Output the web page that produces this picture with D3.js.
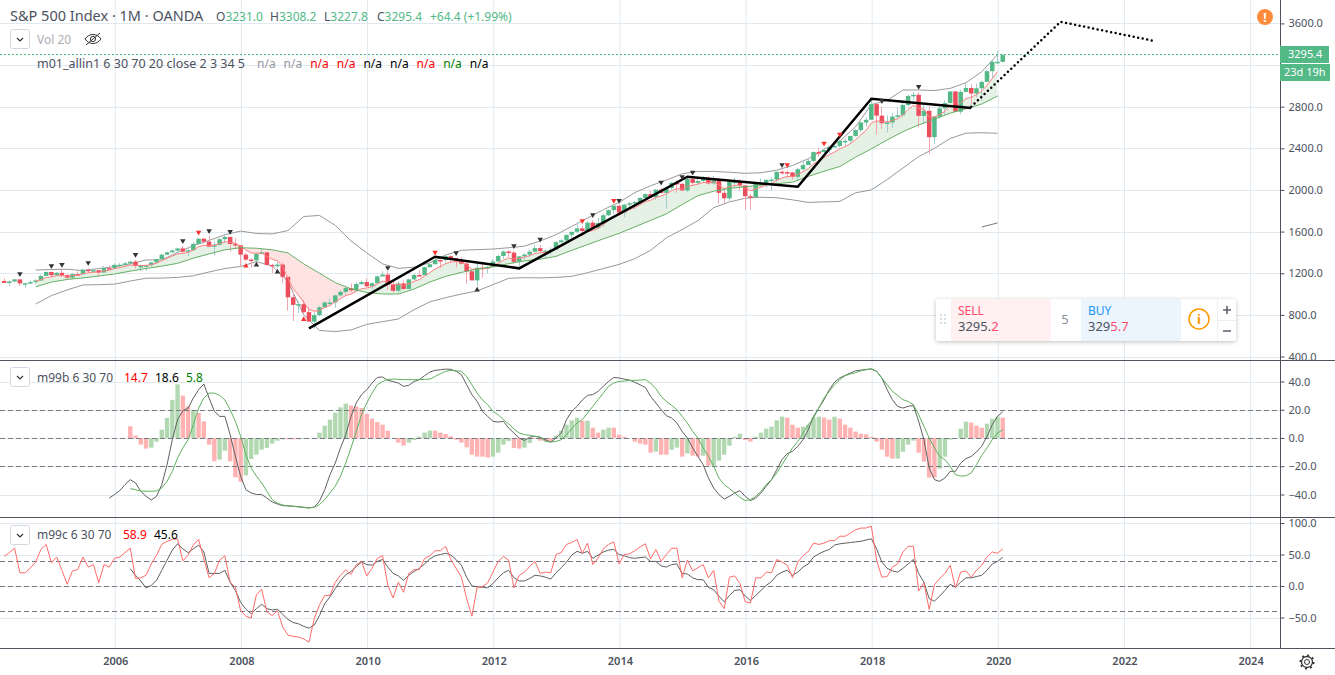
<!DOCTYPE html>
<html>
<head>
<meta charset="utf-8">
<script src="https://cdn.jsdelivr.net/npm/d3@7"></script>
<style>
  body { margin: 0; background: #fff; }
  text { font-family: "Noto Sans", sans-serif; }
</style>
</head>
<body>
<div id="chart"></div>
<script>
// months counted from Jan 2006 = 0, first candle is Apr 2004, last is Feb 2020
var firstMonth = -21
var yearTicks = [2006, 2008, 2010, 2012, 2014, 2016, 2018, 2020, 2022, 2024]
var priceTicks = [3600, 3200, 2800, 2400, 2000, 1600, 1200, 800, 400]
var priceLabels = [3600, 2800, 2400, 2000, 1600, 1200, 800, 400] // 3200 sits under the price tags
var oscTicks = [40, 20, 0, -20, -40]
var oscDashes = [20, 0, -20]
var pctTicks = [100, 50, 0, -50]
var pctDashes = [40, 0, -40]

var opens = [1126,1107,1121,1141,1102,1104,1115,1130,1174,
  1212,1181,1204,1181,1157,1192,1191,1234,1220,1229,1207,1249,
  1248,1280,1281,1295,1311,1270,1270,1277,1304,1336,1378,1401,
  1418,1438,1407,1421,1482,1531,1503,1455,1474,1527,1549,1481,
  1468,1379,1331,1323,1386,1400,1280,1267,1283,1165,969,896,
  903,826,735,798,873,919,919,987,1021,1057,1036,1096,
  1115,1074,1104,1169,1187,1089,1031,1102,1049,1141,1183,1181,
  1258,1286,1327,1326,1364,1345,1321,1292,1219,1131,1253,1247,
  1258,1312,1366,1408,1398,1310,1362,1379,1407,1441,1412,1416,
  1426,1498,1515,1569,1598,1631,1606,1686,1633,1682,1757,1806,
  1848,1783,1859,1872,1884,1924,1960,1931,2003,1972,2018,2068,
  2059,1995,2104,2068,2086,2107,2063,2104,1972,1920,2079,2080,
  2044,1940,1932,2060,2065,2097,2099,2174,2171,2168,2126,2199,
  2239,2279,2364,2363,2384,2412,2423,2470,2472,2519,2575,2648,
  2674,2824,2714,2641,2648,2705,2718,2816,2902,2914,2712,2760,
  2507,2704,2784,2834,2946,2752,2942,2980,2926,2977,3038,3141,
  3231,3231]
var highs = [1150,1128,1146,1140,1109,1131,1142,1188,1217,
  1217,1212,1229,1192,1199,1219,1246,1245,1244,1233,1270,1275,
  1295,1297,1310,1318,1327,1284,1281,1307,1340,1389,1407,1431,
  1441,1461,1439,1498,1535,1541,1556,1504,1539,1576,1546,1537,
  1471,1396,1344,1397,1441,1405,1292,1313,1306,1167,1007,936,
  943,875,832,888,930,956,993,1039,1080,1101,1113,1130,
  1150,1112,1180,1220,1218,1131,1120,1129,1148,1196,1227,1263,
  1302,1344,1332,1366,1371,1346,1357,1307,1230,1293,1292,1269,
  1333,1378,1420,1422,1415,1364,1391,1427,1474,1470,1434,1448,
  1510,1530,1570,1597,1687,1654,1698,1709,1730,1775,1813,1849,
  1850,1867,1883,1897,1925,1968,1991,2005,2019,2018,2075,2093,
  2064,2119,2117,2125,2134,2129,2132,2112,2020,2094,2116,2104,
  2038,1962,2072,2111,2103,2120,2177,2193,2187,2169,2214,2278,
  2301,2371,2401,2398,2416,2454,2484,2491,2519,2582,2657,2694,
  2873,2835,2801,2717,2742,2791,2848,2916,2941,2940,2815,2800,
  2708,2813,2860,2949,2954,2964,3028,3014,3022,3050,3154,3248,
  3337,3308.2]
var lows = [1105,1076,1113,1078,1060,1099,1090,1128,1173,
  1163,1180,1163,1137,1146,1188,1183,1201,1205,1168,1202,1246,
  1245,1253,1268,1280,1245,1219,1224,1262,1290,1327,1377,1394,
  1403,1389,1363,1416,1476,1484,1453,1370,1460,1489,1406,1435,
  1270,1317,1256,1320,1385,1273,1200,1247,1107,840,741,815,
  805,735,667,784,868,888,869,979,992,1020,1029,1086,
  1071,1044,1101,1170,1040,1011,1011,1040,1049,1131,1173,1186,
  1257,1287,1249,1302,1311,1258,1282,1101,1136,1075,1158,1202,
  1259,1312,1340,1357,1292,1267,1325,1354,1397,1403,1343,1377,
  1426,1485,1501,1536,1582,1560,1604,1627,1633,1646,1746,1767,
  1770,1737,1834,1814,1859,1915,1930,1904,1964,1821,2001,1972,
  1988,1980,2039,2048,2067,2056,2044,1867,1871,1893,2019,1993,
  1812,1810,1937,2033,2025,1992,2074,2147,2119,2097,2084,2187,
  2245,2267,2322,2329,2352,2405,2407,2418,2446,2511,2557,2605,
  2682,2532,2586,2553,2594,2691,2699,2802,2864,2603,2631,2346,
  2443,2681,2722,2848,2750,2728,2952,2822,2891,2855,3050,3070,
  3214,3227.8]
var closes = [1107,1121,1141,1102,1104,1115,1130,1174,1212,
  1181,1204,1181,1157,1192,1191,1234,1220,1229,1207,1249,1248,
  1280,1281,1295,1311,1270,1270,1277,1304,1336,1378,1401,1418,
  1438,1407,1421,1482,1531,1503,1455,1474,1527,1549,1481,1468,
  1379,1331,1323,1386,1400,1280,1267,1283,1165,969,896,903,
  826,735,798,873,919,919,987,1021,1057,1036,1096,1115,
  1074,1104,1169,1187,1089,1031,1102,1049,1141,1183,1181,1258,
  1286,1327,1326,1364,1345,1321,1292,1219,1131,1253,1247,1258,
  1312,1366,1408,1398,1310,1362,1379,1407,1441,1412,1416,1426,
  1498,1515,1569,1598,1631,1606,1686,1633,1682,1757,1806,1848,
  1783,1859,1872,1884,1924,1960,1931,2003,1972,2018,2068,2059,
  1995,2104,2068,2086,2107,2063,2104,1972,1920,2079,2080,2044,
  1940,1932,2060,2065,2097,2099,2174,2171,2168,2126,2199,2239,
  2279,2364,2363,2384,2412,2423,2470,2472,2519,2575,2648,2674,
  2824,2714,2641,2648,2705,2718,2816,2902,2914,2712,2760,2507,
  2704,2784,2834,2946,2752,2942,2980,2926,2977,3038,3141,3231,
  3231,3295.4]

// fast line, monthly from Oct 2004 to Jan 2020
var fastLine = [1123,1138,1159,
  1165,1176,1177,1171,1177,1181,1196,1203,1210,1209,1221,1228,
  1243,1254,1266,1279,1276,1274,1275,1283,1298,1321,1344,1365,
  1386,1392,1400,1423,1454,1468,1464,1467,1484,1503,1497,1489,
  1458,1422,1394,1392,1394,1361,1334,1319,1265,1150,1050,990,
  920,850,835,840,870,890,925,955,985,1000,1025,1051,
  1058,1071,1099,1124,1114,1090,1094,1081,1098,1122,1139,1173,
  1205,1240,1265,1293,1308,1312,1306,1281,1238,1242,1244,1248,
  1266,1295,1327,1347,1336,1344,1354,1369,1390,1396,1402,1409,
  1434,1457,1489,1520,1552,1567,1601,1610,1631,1667,1707,1747,
  1757,1786,1811,1832,1858,1887,1900,1929,1941,1963,1993,2012,
  2007,2035,2044,2056,2071,2069,2079,2048,2011,2031,2045,2045,
  2015,1991,2011,2026,2046,2061,2093,2115,2130,2129,2149,2175,
  2205,2250,2282,2311,2340,2364,2394,2416,2445,2482,2530,2571,
  2643,2663,2657,2654,2669,2683,2721,2773,2813,2784,2777,2700,
  2701,2725,2756,2810,2793,2836,2877,2891,2916,2951,3005,3070,
  3136]

// slow line and the two bands, one reading every third month from Oct 2004 to Jan 2020
var bandStart = -15, bandStep = 3
var slowLine = [1070,1115,1140,1155,1173,1193,1220,1245,1268,1295,1345,1385,1425,1445,1440,1425,
  1395,1290,1200,1110,1050,1015,1000,1000,1048,1115,1170,1208,1240,1263,1292,1318,
  1335,1362,1420,1475,1530,1583,1645,1708,1770,1860,1945,1988,2015,2031,2046,2060,
  2075,2130,2180,2225,2315,2395,2480,2560,2625,2680,2738,2780,2825,2902]
var upperBand = [1231,1235,1238,1225,1245,1263,1290,1327,1327,1400,1465,1515,1570,1605,1582,1577,
  1610,1745,1755,1660,1510,1395,1290,1247,1258,1300,1375,1420,1427,1432,1445,1460,
  1510,1570,1650,1730,1810,1880,1975,2040,2095,2155,2178,2178,2170,2160,2165,2190,
  2235,2300,2390,2470,2607,2820,2860,2960,2960,2955,2976,3030,3136,3300]
var lowerBand = [904,985,1040,1087,1090,1095,1125,1152,1153,1160,1175,1212,1245,1265,1311,1270,
  1120,800,650,640,655,709,735,760,850,925,965,1000,1030,1090,1151,1157,
  1155,1160,1170,1205,1245,1285,1340,1420,1540,1620,1705,1830,1885,1920,1930,1925,
  1905,1880,1885,1890,1973,2000,2100,2210,2320,2400,2495,2545,2550,2544]
var stubMonths = [165, 168]
var stubValues = [1644, 1683]

// drawn trend lines
var trendMonths = [37, 61, 77, 109, 130, 144, 163]
var trendValues = [670, 1358, 1247, 2127, 2031, 2876, 2787]
var forecastMonths = [163, 180, 198]
var forecastValues = [2800, 3615, 3430]

// pivot markers
var darkDownMonths = [-18,-12,-10,-5,4,13,18,22,52,65,76,81,91,96,104,108,110,127,146,153]
var darkDownValues = [1195,1272,1282,1301,1378,1512,1608,1599,1253,1397,1464,1526,1762,1897,2073,2127,2169,2242,2855,2992]
var redDownMonths = [16,61,89,95,128,135,138]
var redDownValues = [1593,1401,1704,1897,2242,2448,2534]
var darkUpMonths = [27,31,69]
var darkUpValues = [1279,1212,1039]
var redUpMonths = [25,36]
var redUpValues = [1269,757]

// m99b histogram from Apr 2006 to Feb 2020, p = pink, g = green
var histStart = 3
var histValues = [8.3,1.7,-4.7,-7.5,-6.8,-2.6,5.9,14.2,27,38,
  30,22.4,20,17.7,11.8,-4.7,-16.5,-15.3,-9,-16.5,
  -27.8,-31,-26.4,-14.9,-11.8,-8.3,-7,-4,-1.9,-1,
  -0.9,-0.9,-0.9,-0.7,0,0,3.8,8.7,13,17.9,
  21.7,24.3,22.9,22.2,21.2,17.2,13.7,11.3,9.4,5.2,
  0,-3.3,-5.4,-3.3,-1.4,0.9,3.8,5.2,5.2,3.8,
  2.8,1.2,-1.2,-3.3,-6.6,-11.8,-13.2,-13.2,-13.9,-13.2,
  -10.4,-4.7,-2.1,-7,-7.5,-6.8,-3.5,-0.5,-1.9,-2.3,
  -2.8,1.7,5.2,9.4,12.5,14.4,12.3,12.3,7.3,3.8,
  5.9,7.3,7.3,2.4,0.9,0,-2.6,-4,-4.7,-10.4,
  -9.7,-11.8,-11.8,-8.3,-6.8,-13.2,-11,-12.5,-13.2,-12.5,
  -19.6,-19.6,-16,-11.8,-5.4,0.9,3,-1.4,-2.6,0.9,
  3.8,6.6,8,12.5,15.1,14.4,9.4,7.3,8,9.4,
  14.4,15.1,14.4,13,15.1,13.7,9.4,7.3,4.5,3,
  2.6,0.9,-2.6,-8.3,-13.2,-14.6,-14.6,-9.7,-4.7,-1.9,
  -10.4,-16.7,-28,-28,-21.7,-13.2,-1.2,0,6.6,11.6,
  10.9,8.7,7.3,10.2,13.7,15.1,14.4]
var histTone = "ppppgggggg" + "ppgppppggp" + "ppgggggggg" + "pppggggggg" + "ggpppppppp" +
  "pppgggggpp" + "pppppppppg" + "gggppggppp" + "pgggggpgpp" + "ggpppppppp" +
  "gppggpgppg" + "pggggggppg" + "gggggpppgg" + "ggppgppppp" + "ppppppgggg" +
  "ppppgggggg" + "pppgggp"

// m99b lines
var oscBlackStart = -1
var oscBlack = [-42.5,-40,-37.3,-33,-29.5,-31.8,-37.7,-41.3,-43.9,-41.3,-33,-18.9,-1.2,13,19.3,21.2,28.3,34.2,38.2,
  28.3,18.9,15.3,15.3,2.4,-13,-27,-36.6,-38.9,-40,-40,-42.5,-45.3,-46.7,-47.9,-48,-48.3,-48.6,-49,-49.5,-49,
  -44.8,-36.6,-26,-17.7,-7,2.4,15.3,24.8,30.7,34.2,38.9,42.9,43.2,40.8,40,38.9,36.6,37.3,40,41.3,44.1,46.7,47.9,
  48.3,48.8,48.6,47.2,44.8,37.7,30.7,25.9,18.9,15.3,11.8,11.3,11.8,7,3.5,0,-1.7,0.5,1.2,0.5,-1.2,-3,0,3.5,13,
  18.9,22.4,26.9,30.2,30.7,33,36.6,40,42.9,42.5,41.7,41,39.4,37.7,35.8,29.5,24.8,20,15.8,14.2,10.6,4.7,0,-7,-13,
  -18.9,-28.3,-35.4,-40,-43.2,-41.3,-38.9,-37.3,-41.3,-44.3,-42.5,-38.9,-34.2,-29.5,-22.4,-15.3,-11,-9.4,-5.9,-1.2,
  5.9,15.3,21.2,27.1,34.2,39.6,42.5,44.3,46,47.6,48,48.6,48.8,47.2,42.5,34.2,27.1,22.4,21.2,22.4,23.1,11.8,-1.2,
  -21.2,-29.5,-30.7,-28.3,-23.6,-23.6,-17.7,-14.6,-13,-9.9,-5.9,1.2,9.4,15.3,18.6]
var oscGreenStart = 3
var oscGreen = [-35.8,-36.6,-37.5,-37.7,-37.7,-37.5,-35.4,-30.7,-23.6,-14.2,-7,-1.2,9.4,21.2,28.3,31.8,31.8,30.2,27,20,
  11.8,1.2,-11.8,-21.2,-27,-31.8,-37.7,-43.6,-46.2,-47.4,-48.1,-48.3,-48.8,-49.3,-49.5,-49,-47.2,-43.6,-38.9,-34.2,
  -27,-17.7,-7,4.7,16.5,24.8,31.8,37.7,40,41.5,41.7,41.5,41.3,41.3,41.3,41.3,41.5,41.7,43.6,45.5,47.2,47.9,47.6,47.2,
  43.6,37.7,31.8,27,23.6,18.9,16.5,13,9.9,6.4,3.5,2.4,1.9,1.2,0.5,-2.4,-2.8,-2.4,-1.2,2.4,6.6,10.6,13,17.7,22.4,27.1,
  31.8,36.6,39,40,40.3,40.8,40.8,41,41.3,38.9,34.9,29.5,25.9,23.1,20,15.3,10.6,4.7,0,-7,-13,-20,-28.3,-33,-35.8,-38.9,
  -42,-44.3,-43.6,-41.3,-37.7,-33,-29.5,-24.8,-18.9,-13,-7,-2.4,3.5,9.4,14.2,21.2,28.3,33,37.7,41.3,44.1,45.3,46.2,
  47.6,48.3,49,47.2,42.5,37.7,33,30.2,27.1,25.9,23.6,16.5,8.3,0,-7,-13,-15.3,-20,-25.9,-27,-26.7,-24.8,-18.9,-12.3,
  -7,-1.2,3.5,5.8]

// m99c lines
var pctRedStart = -21
var pctRed = [47,53,60,21,21,28.6,38,58,66,37,46,25,2.6,24,26,46,30,34,5,34,30,44,46,53,60,12,13,17,35,49,66,71,74,75,
  40,49,65,74,43,13,20,41,48,6,-2,-39,-48,-51,-14,-5,-41,-47,-39,-65,-78,-80,-81,-84,-89,-52,-30,-15,-15,6,17,26,18,
  34,39,16,28,44,48,1,-19,6,-10,20,26,26,44,48,56,56,63,42,28,14,-20,-48,-2,-1,5,22,39,47,41,-3,17,22,31,39,20,22,21,
  50,53,66,69,74,52,68,34,44,59,66,70,35,50,51,56,62,67,43,58,39,50,60,60,13,41,24,29,34,13,25,-24,-36,14,16,4,-25,-27,
  13,13,22,21,42,38,33,13,38,48,55,68,66,68,72,72,79,79,84,89,92,92,95,41,14,15,30,35,54,63,63,-8,5,-37,2,12,20,33,-3,
  22,24,14,25,33,46,54,52,58.9]
var pctBlackStart = 3
var pctBlack = [27.5,17,8,-3,1,9,25,41,57,67,59,53,59,65,54,20,20,20,25,6,-7,-26,-37,-44,-36,-29,-36,-38,-37,-45,-53,-58,
  -60,-64,-67,-62,-47,-28,-17,-4,8,18,23,31,38,34,33,39,42,30,20,16,9,17,23,28,35,43,48,50,52,49,42,33,14,0,-1,-2,-3,4,
  13,21,25,13,8,8,12,17,16,14,11,21,29,38,49,55,52,55,44,49,54,57,58,50,48,45,44,45,46,39,39,32,30,34,35,20,19,13,10,10,
  -2,-6,-16,-25,-15,-7,-6,-16,-23,-15,-7,1,7,17,22,25,17,22,30,35,46,51,55,58,65,67,68,69,70,71,73,75,59,38,28,24,22,28,
  35,42,20,6,-20,-24,-16,-7,3,-2,6,13,13,15,17,25,35,39,45.6]

var naValues = ["n/a","n/a","n/a","n/a","n/a","n/a","n/a","n/a","n/a"]
var naColors = ["#9598a1","#9598a1","#ff0000","#ff0000","#000000","#000000","#ff0000","#008000","#000000"]

var width = 1335, height = 675
var scaleX = 1280

var svg = d3.select("#chart").append("svg")
  .attr("width", width)
  .attr("height", height)
  .style("display", "block")

var x = d3.scaleLinear().domain([0, 168]).range([115.3, 998.3])
// marks sit a little left of the grid line of their month
var xMark = m => x(m) - 0.8
var yPrice = d3.scaleLinear().domain([400, 3600]).range([356.5, 23.4])
var yOsc = d3.scaleLinear().domain([-40, 40]).range([494.5, 381.5])
var yPct = d3.scaleLinear().domain([-50, 100]).range([617.5, 523])

var gridColor = "#e1e9f0", axisColor = "#50535e", textColor = "#4c525e"
var upColor = "#53b987", downColor = "#eb4d5c"

// grid
var grid = svg.append("g")
grid.selectAll(".v").data(yearTicks).enter().append("line")
  .attr("x1", d => x((d - 2006) * 12)).attr("x2", d => x((d - 2006) * 12))
  .attr("y1", 0).attr("y2", 648)
  .attr("stroke", gridColor)
function hGrid(ticks, y) {
  grid.selectAll(null).data(ticks).enter().append("line")
    .attr("x1", 0).attr("x2", scaleX)
    .attr("y1", d => Math.round(y(d)) + 0.5).attr("y2", d => Math.round(y(d)) + 0.5)
    .attr("stroke", gridColor)
}
hGrid(priceTicks, yPrice)
hGrid(oscTicks, yOsc)
hGrid(pctTicks, yPct)

// band between the fast and the slow line
function seriesPoints(start, step, values) {
  return values.map((v, i) => [start + i * step, v])
}
var fastPts = seriesPoints(-15, 1, fastLine)
var slowPts = seriesPoints(bandStart, bandStep, slowLine)
var upperPts = seriesPoints(bandStart, bandStep, upperBand)
var lowerPts = seriesPoints(bandStart, bandStep, lowerBand)

var priceLine = d3.line().x(d => xMark(d[0])).y(d => yPrice(d[1]))
var defs = svg.append("defs")
defs.append("clipPath").attr("id", "aboveSlow").append("path")
  .attr("d", d3.area().x(d => xMark(d[0])).y0(0).y1(d => yPrice(d[1]))(slowPts))
defs.append("clipPath").attr("id", "belowSlow").append("path")
  .attr("d", d3.area().x(d => xMark(d[0])).y0(360).y1(d => yPrice(d[1]))(slowPts))
var ribbon = priceLine(fastPts.concat(slowPts.slice().reverse())) + "Z"
svg.append("path").attr("d", ribbon).attr("fill", "#e5f1e5").attr("clip-path", "url(#aboveSlow)")
svg.append("path").attr("d", ribbon).attr("fill", "#ffe2e2").attr("clip-path", "url(#belowSlow)")

function drawLine(sel, line, pts, color, w, dash) {
  return sel.append("path")
    .attr("d", line(pts))
    .attr("fill", "none")
    .attr("stroke", color)
    .attr("stroke-width", w)
    .attr("stroke-dasharray", dash || null)
}
drawLine(svg, priceLine, upperPts, "#999999", 1)
drawLine(svg, priceLine, lowerPts, "#999999", 1)
drawLine(svg, priceLine, d3.zip(stubMonths, stubValues), "#777777", 1)

// candles
var candles = closes.map((c, i) => ({ m: firstMonth + i, o: opens[i], h: highs[i], l: lows[i], c: c }))
var bars = svg.append("g").selectAll("g").data(candles).enter().append("g")
bars.append("line")
  .attr("x1", d => Math.floor(xMark(d.m)) + 0.5).attr("x2", d => Math.floor(xMark(d.m)) + 0.5)
  .attr("y1", d => yPrice(d.h)).attr("y2", d => yPrice(d.l))
  .attr("stroke", d => d.c >= d.o ? "#a3cdd0" : "#f5a3ad")
bars.append("rect")
  .attr("x", d => xMark(d.m) - 2.25)
  .attr("width", 4.5)
  .attr("y", d => yPrice(Math.max(d.o, d.c)))
  .attr("height", d => Math.max(1.5, Math.abs(yPrice(d.o) - yPrice(d.c))))
  .attr("fill", d => d.c >= d.o ? upColor : downColor)

drawLine(svg, priceLine, fastPts, "#ff8080", 1)
drawLine(svg, priceLine, slowPts, "#66b066", 1)

// trend drawing
drawLine(svg, priceLine, d3.zip(trendMonths, trendValues), "#000000", 2.5)
drawLine(svg, priceLine, d3.zip(forecastMonths, forecastValues), "#000000", 2.5, "0 4.6")
  .attr("stroke-linecap", "round")

// pivots
function markers(ms, vs, color, down) {
  svg.append("g").selectAll("path").data(d3.zip(ms, vs)).enter().append("path")
    .attr("d", d3.symbol(d3.symbolTriangle, 13))
    .attr("fill", color)
    .attr("transform", d => "translate(" + xMark(d[0]) + "," + yPrice(d[1]) + ")" + (down ? "rotate(180)" : ""))
}
markers(darkDownMonths, darkDownValues, "#333333", true)
markers(redDownMonths, redDownValues, "#ff3030", true)
markers(darkUpMonths, darkUpValues, "#333333", false)
markers(redUpMonths, redUpValues, "#ff3030", false)

// m99b
function dashes(ticks, y) {
  svg.append("g").selectAll("line").data(ticks).enter().append("line")
    .attr("x1", 0).attr("x2", scaleX)
    .attr("y1", d => Math.round(y(d)) + 0.5).attr("y2", d => Math.round(y(d)) + 0.5)
    .attr("stroke", "#787b86")
    .attr("stroke-dasharray", "5 3")
}
var histBars = histValues.map((v, i) => ({ m: histStart + i, v: v, tone: histTone[i] }))
svg.append("g").selectAll("rect").data(histBars).enter().append("rect")
  .attr("x", d => xMark(d.m) - 2.2)
  .attr("width", 4.4)
  .attr("y", d => Math.min(yOsc(d.v), yOsc(0)))
  .attr("height", d => Math.abs(yOsc(d.v) - yOsc(0)))
  .attr("fill", d => d.tone === "g" ? "#b2d8b2" : "#ffb2b2")
dashes(oscDashes, yOsc)
var oscLine = d3.line().x(d => xMark(d[0])).y(d => yOsc(d[1]))
drawLine(svg, oscLine, seriesPoints(oscBlackStart, 1, oscBlack), "#606060", 1)
drawLine(svg, oscLine, seriesPoints(oscGreenStart, 1, oscGreen), "#5fb05f", 1)

// m99c
dashes(pctDashes, yPct)
var pctLine = d3.line().x(d => xMark(d[0])).y(d => yPct(d[1]))
drawLine(svg, pctLine, seriesPoints(pctBlackStart, 1, pctBlack), "#606060", 1)
drawLine(svg, pctLine, seriesPoints(pctRedStart, 1, pctRed), "#ff6b6b", 1)

// last price line
svg.append("line")
  .attr("x1", 0).attr("x2", scaleX)
  .attr("y1", Math.round(yPrice(closes[closes.length - 1])) - 0.5)
  .attr("y2", Math.round(yPrice(closes[closes.length - 1])) - 0.5)
  .attr("stroke", upColor).attr("stroke-dasharray", "2 2")

// axes
function rightAxis(y, ticks) {
  var g = svg.append("g")
    .attr("transform", "translate(" + (scaleX + 0.5) + ",0)")
    .call(d3.axisRight(y).tickValues(ticks).tickFormat(d3.format(".1f")).tickSize(4).tickPadding(4))
  g.select(".domain").remove()
  g.selectAll("line").attr("stroke", axisColor)
  g.selectAll("text").attr("fill", textColor).style("font-size", "11px").style("font-family", '"Noto Sans", sans-serif')
}
rightAxis(yPrice, priceLabels)
rightAxis(yOsc, oscTicks)
rightAxis(yPct, pctTicks)

var xAxis = svg.append("g")
  .attr("transform", "translate(0,648.5)")
  .call(d3.axisBottom(x).tickValues(yearTicks.map(d => (d - 2006) * 12))
    .tickFormat(d => 2006 + d / 12).tickSize(0).tickPadding(9))
xAxis.select(".domain").remove()
xAxis.selectAll("text").attr("fill", textColor).attr("font-weight", 600)
  .style("font-size", "11px").style("font-family", '"Noto Sans", sans-serif')

// panel frames
var frame = svg.append("g").attr("stroke", axisColor)
frame.append("line").attr("x1", 0).attr("x2", width).attr("y1", 360.5).attr("y2", 360.5)
frame.append("line").attr("x1", 0).attr("x2", width).attr("y1", 517.5).attr("y2", 517.5)
frame.append("line").attr("x1", 0).attr("x2", width).attr("y1", 648.5).attr("y2", 648.5)
frame.append("line").attr("x1", scaleX + 0.5).attr("x2", scaleX + 0.5).attr("y1", 0).attr("y2", 648.5)

// last price tags
svg.append("rect").attr("x", scaleX).attr("y", 46).attr("width", 49).attr("height", 17).attr("fill", upColor)
svg.append("rect").attr("x", scaleX).attr("y", 64).attr("width", 50).attr("height", 17).attr("fill", upColor)
function label(parent, tx, ty, str, color, size, anchor, weight) {
  return parent.append("text").attr("x", tx).attr("y", ty).text(str)
    .attr("fill", color).style("font-size", size + "px")
    .attr("text-anchor", anchor || "start").attr("font-weight", weight || null)
}
label(svg, 1288, 58, "3295.4", "#ffffff", 11)
label(svg, 1284, 76, "23d 19h", "#ffffff", 11)

// header legends
label(svg, 10, 21, "S&P 500 Index · 1M · OANDA", "#4c525e", 14.5)
var ohlc = [[216, "O", "3231.0"], [270, "H", "3308.2"], [324, "L", "3227.8"], [377, "C", "3295.4"]]
ohlc.forEach(function (d) {
  var t = label(svg, d[0], 21, d[1], "#4c525e", 12)
  t.append("tspan").attr("fill", upColor).text(d[2])
})
label(svg, 430, 21, "+64.4 (+1.99%)", upColor, 12)

function arrowButton(by) {
  svg.append("rect").attr("x", 10.5).attr("y", by + 0.5).attr("width", 19).attr("height", 19).attr("rx", 2)
    .attr("fill", "#fff").attr("stroke", "#d6d8e0")
  svg.append("path").attr("d", "M17 " + (by + 9) + "l3 3 3 -3").attr("fill", "none").attr("stroke", "#333").attr("stroke-width", 1.2)
}
arrowButton(29)
arrowButton(367)
arrowButton(525)
label(svg, 37, 44, "Vol 20", "#adaeb5", 12)
var eye = svg.append("g").attr("transform", "translate(93,39)").attr("fill", "none").attr("stroke", "#333").attr("stroke-width", 1)
eye.append("path").attr("d", "M-8 0C-4 -6 4 -6 8 0C4 6 -4 6 -8 0Z")
eye.append("circle").attr("r", 2.6)
eye.append("line").attr("x1", -7).attr("y1", 6).attr("x2", 7).attr("y2", -6)

label(svg, 37, 68, "m01_allin1 6 30 70 20 close 2 3 34 5", "#4c525e", 12.5)
svg.append("g").selectAll("text").data(naValues).enter().append("text")
  .attr("x", (d, i) => 257 + i * 26.6).attr("y", 68)
  .attr("fill", (d, i) => naColors[i]).style("font-size", "12px").text(d => d)

label(svg, 37, 382, "m99b 6 30 70", "#4c525e", 12)
label(svg, 124, 382, "14.7", "#ff0000", 12)
label(svg, 155, 382, "18.6", "#000000", 12)
label(svg, 186, 382, "5.8", "#008000", 12)
label(svg, 37, 539, "m99c 6 30 70", "#4c525e", 12)
label(svg, 123, 539, "58.9", "#ff0000", 12)
label(svg, 154, 539, "45.6", "#000000", 12)

// warning badge
svg.append("circle").attr("cx", 1265).attr("cy", 17).attr("r", 8).attr("fill", "#ff8c3c")
label(svg, 1265, 21.5, "!", "#ffffff", 12, "middle", 700)

// settings gear
var gear = svg.append("g").attr("transform", "translate(1307,662)").attr("fill", "none").attr("stroke", "#333")
gear.append("circle").attr("r", 2.5)
gear.append("circle").attr("r", 5.5).attr("stroke-width", 1.3)
gear.append("circle").attr("r", 6.8).attr("stroke-width", 1.6).attr("stroke-dasharray", "2 3.34")

// order panel
var panel = svg.append("g")
var shadow = defs.append("filter").attr("id", "soft").attr("x", "-10%").attr("y", "-30%").attr("width", "120%").attr("height", "170%")
shadow.append("feDropShadow").attr("dx", 0).attr("dy", 1).attr("stdDeviation", 2).attr("flood-color", "#000").attr("flood-opacity", 0.25)
panel.append("rect").attr("x", 936).attr("y", 299).attr("width", 300).attr("height", 42).attr("rx", 3)
  .attr("fill", "#fff").attr("filter", "url(#soft)")
panel.append("rect").attr("x", 951).attr("y", 299).attr("width", 100).attr("height", 42).attr("fill", "#fff0f2")
panel.append("rect").attr("x", 1081).attr("y", 299).attr("width", 100).attr("height", 42).attr("fill", "#ecf5fe")
panel.selectAll(".dot").data([0, 1, 2, 3, 4, 5]).enter().append("rect")
  .attr("x", d => 940 + (d % 2) * 4).attr("y", d => 314 + Math.floor(d / 2) * 4)
  .attr("width", 2).attr("height", 2).attr("fill", "#d8dce3")
label(panel, 958, 315, "SELL", "#ff4a68", 12)
var sell = label(panel, 958, 331, "3295.", "#4c525e", 13)
sell.append("tspan").attr("fill", "#ff4a68").text("2")
label(panel, 1065, 324, "5", "#8a8d96", 13, "middle")
label(panel, 1088, 315, "BUY", "#2196f3", 12)
var buy = label(panel, 1088, 331, "329", "#4c525e", 13)
buy.append("tspan").attr("fill", "#ff4a68").text("5.7")
panel.append("circle").attr("cx", 1199).attr("cy", 319).attr("r", 10).attr("fill", "none").attr("stroke", "#ff9800").attr("stroke-width", 1.5)
label(panel, 1199, 324, "i", "#ff9800", 13, "middle", 700)
panel.append("line").attr("x1", 1217.5).attr("x2", 1217.5).attr("y1", 299).attr("y2", 341).attr("stroke", "#eceef2")
panel.append("line").attr("x1", 1217).attr("x2", 1236).attr("y1", 320.5).attr("y2", 320.5).attr("stroke", "#eceef2")
panel.append("path").attr("d", "M1223 310h8M1227 306v8M1223 331h8").attr("stroke", "#5d606b").attr("stroke-width", 1.6).attr("fill", "none")
</script>
</body>
</html>
